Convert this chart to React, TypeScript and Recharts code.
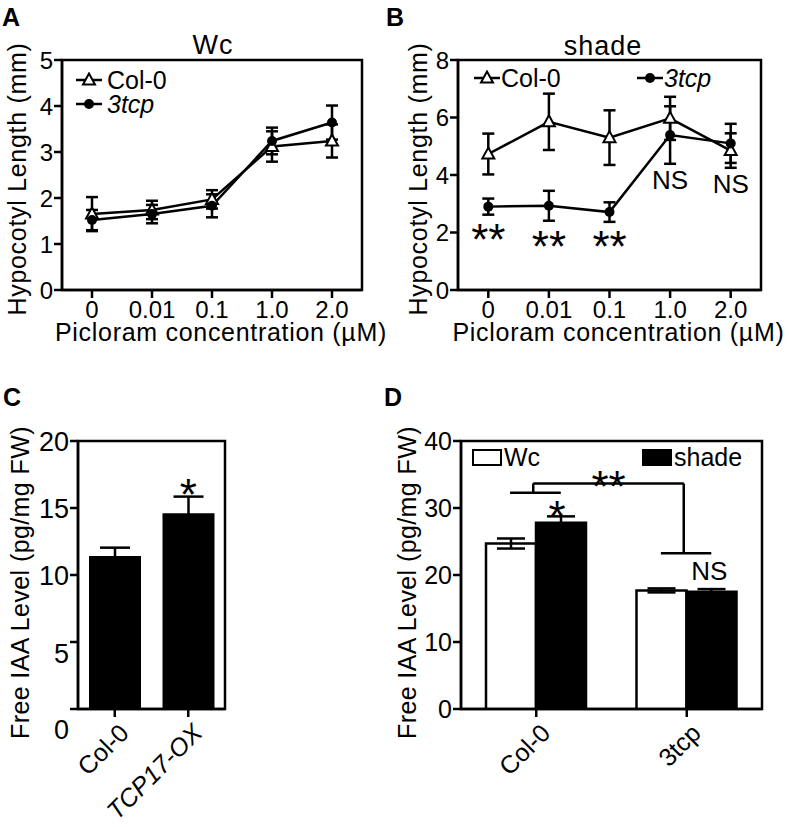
import React from "react";
import {
  Bar,
  BarChart,
  ErrorBar,
  Legend,
  Line,
  LineChart,
  ReferenceArea,
  ReferenceDot,
  ReferenceLine,
  XAxis,
  YAxis,
} from "recharts";

const FONT = '"Liberation Sans", Arial, Helvetica, sans-serif';
const INK = "#000";

// ---- panel A / B: hypocotyl length vs picloram ----
const concentrations = ["0", "0.01", "0.1", "1.0", "2.0"];

const wcCol0 = [1.65, 1.74, 1.97, 3.12, 3.24];
const wcCol0Err = [0.37, 0.2, 0.2, 0.33, 0.36];
const wcTcp = [1.52, 1.65, 1.83, 3.24, 3.64];
const wcTcpErr = [0.22, 0.2, 0.25, 0.29, 0.37];

const shadeCol0 = [4.73, 5.85, 5.3, 5.97, 4.85];
const shadeCol0Err = [0.71, 0.98, 0.95, 0.75, 0.6];
const shadeTcp = [2.9, 2.93, 2.71, 5.39, 5.1];
const shadeTcpErr = [0.28, 0.52, 0.34, 1.0, 0.68];
const shadeMarks = ["**", "**", "**", "NS", "NS"];
const shadeMarkY = [2.09, 1.85, 1.85, 3.83, 3.69];

const ticksA = [0, 1, 2, 3, 4, 5];
const ticksB = [0, 2, 4, 6, 8];

// ---- panel C: free IAA, Col-0 vs TCP17-OX ----
const linesC = ["Col-0", "TCP17-OX"];
const iaaC = [11.41, 14.6];
const iaaCErr = [0.63, 1.25];
const ticksC = [0, 5, 10, 15, 20];
const ticksCShift: Record<number, number> = { 0: 20, 5: 11 };
const markC = { x: 1.5, y: 16.75, text: "*" };

// ---- panel D: free IAA, Wc vs shade ----
const genotypes = ["Col-0", "3tcp"];
const iaaWc = [24.7, 17.7];
const iaaWcErr = [0.75, 0.3];
const iaaShade = [27.8, 17.5];
const iaaShadeErr = [0.95, 0.4];
const ticksD = [0, 10, 20, 30, 40];
// bracket segments in (group position, value) space; groups sit at 0.5 and 1.5
const bracketD = [
  [[0.48, 33.66], [1.48, 33.66]],
  [[0.48, 33.66], [0.48, 32.26]],
  [[0.326, 32.26], [0.663, 32.26]],
  [[1.48, 33.66], [1.48, 23.23]],
  [[1.328, 23.23], [1.663, 23.23]],
];
const marksD = [
  { x: 0.639, y: 30.28, text: "*" },
  { x: 0.981, y: 34.67, text: "**" },
  { x: 1.65, y: 20.6, text: "NS" },
];

// group i is centred at i (A, B) or i + 0.5 (C, D) on a numeric x axis
const rowsA = concentrations.map((c, i) => ({
  pos: i,
  col0: wcCol0[i],
  col0Err: wcCol0Err[i],
  tcp: wcTcp[i],
  tcpErr: wcTcpErr[i],
}));
const rowsB = concentrations.map((c, i) => ({
  pos: i,
  col0: shadeCol0[i],
  col0Err: shadeCol0Err[i],
  tcp: shadeTcp[i],
  tcpErr: shadeTcpErr[i],
}));
const rowsC = linesC.map((name, i) => ({ pos: i + 0.5, iaa: iaaC[i], err: iaaCErr[i] }));
const rowsD = genotypes.map((name, i) => ({
  pos: i + 0.5,
  wc: iaaWc[i],
  wcErr: iaaWcErr[i],
  shade: iaaShade[i],
  shadeErr: iaaShadeErr[i],
}));

const axisLine = { stroke: INK, strokeWidth: 2.5 };

function Triangle(p: any) {
  const { cx, cy, index } = p;
  if (cx == null || cy == null) return <g key={`t-${index}`} />;
  return (
    <polygon
      key={`t-${index}`}
      points={`${cx},${cy - 6.5} ${cx + 6},${cy + 4.5} ${cx - 6},${cy + 4.5}`}
      fill="#fff"
      stroke={INK}
      strokeWidth={2}
    />
  );
}

function Dot(p: any) {
  const { cx, cy, index } = p;
  if (cx == null || cy == null) return <g key={`c-${index}`} />;
  return <circle key={`c-${index}`} cx={cx} cy={cy} r={5} fill={INK} />;
}

function xTitle(text: string, dx: number, dy: number) {
  return ({ viewBox }: any) => (
    <text
      x={viewBox.x + viewBox.width / 2 + dx}
      y={viewBox.y + dy}
      textAnchor="middle"
      fontSize={25}
      letterSpacing={0.7}
      fontFamily={FONT}
      fill={INK}
    >
      {text}
    </text>
  );
}

// vertical axis title; with fromBottom set, the text starts that far below the plot bottom
function yTitle(text: string, fromAxis: number, dy: number, spacing = 0.7, fromBottom?: number) {
  return ({ viewBox }: any) => {
    const x = viewBox.x + viewBox.width - fromAxis;
    const y =
      fromBottom == null ? viewBox.y + viewBox.height / 2 + dy : viewBox.y + viewBox.height + fromBottom;
    return (
      <text
        x={x}
        y={y}
        transform={`rotate(-90 ${x} ${y})`}
        textAnchor={fromBottom == null ? "middle" : "start"}
        dominantBaseline="central"
        fontSize={25}
        letterSpacing={spacing}
        fontFamily={FONT}
        fill={INK}
      >
        {text}
      </text>
    );
  };
}

function markLabel(text: string) {
  const star = text.includes("*");
  return ({ viewBox }: any) => (
    <text
      x={viewBox.x + viewBox.width / 2}
      y={viewBox.y + viewBox.height / 2}
      dy={star ? "0.58em" : "0.36em"}
      textAnchor="middle"
      fontSize={star ? 44 : 26}
      fontFamily={FONT}
      fill={INK}
    >
      {text}
    </text>
  );
}

function catTick(labels: string[]) {
  return (props: any) => {
    const { x, y, payload } = props;
    return (
      <text x={x} y={y} dy="0.71em" textAnchor="middle" fontSize={24} fontFamily={FONT} fill={INK}>
        {labels[Math.round(payload.value)]}
      </text>
    );
  };
}

function slantTick(labels: string[], italic: string[]) {
  return (props: any) => {
    const { x, y, payload } = props;
    const text = labels[Math.floor(payload.value)];
    return (
      <g transform={`translate(${x + 3},${y + 5})`}>
        <text
          transform="rotate(-45)"
          textAnchor="end"
          dy="0.71em"
          fontSize={25}
          fontFamily={FONT}
          fill={INK}
          fontStyle={italic.includes(text) ? "italic" : "normal"}
        >
          {text}
        </text>
      </g>
    );
  };
}

function yTick(shift: Record<number, number>, size: number) {
  return (props: any) => {
    const { x, y, payload } = props;
    return (
      <text
        x={x}
        y={y + (shift[payload.value] ?? 0)}
        dy="0.355em"
        textAnchor="end"
        fontSize={size}
        fontFamily={FONT}
        fill={INK}
      >
        {payload.value}
      </text>
    );
  };
}

type LineSpot = { left: number; top: number; gap: number; marker: "triangle" | "circle"; italic?: boolean };

function lineLegend(spots: Record<string, LineSpot>) {
  return function LineLegend(props: any) {
    const payload = props.payload ?? [];
    return (
      <div style={{ position: "relative", width: 0, height: 0 }}>
        {payload.map((entry: any) => {
          const s = spots[entry.value];
          if (!s) return null;
          return (
            <div
              key={entry.value}
              style={{
                position: "absolute",
                left: s.left,
                top: s.top,
                display: "flex",
                alignItems: "center",
                whiteSpace: "nowrap",
                fontFamily: FONT,
                fontSize: 25,
                lineHeight: "28px",
                color: INK,
                fontStyle: s.italic ? "italic" : "normal",
              }}
            >
              <svg width={28} height={16} style={{ marginRight: s.gap }}>
                <line x1={1} y1={8} x2={27} y2={8} stroke={INK} strokeWidth={2.5} />
                {s.marker === "triangle" ? (
                  <polygon points="14,1.5 20,12.5 8,12.5" fill="#fff" stroke={INK} strokeWidth={2} />
                ) : (
                  <circle cx={14} cy={8} r={5} fill={INK} />
                )}
              </svg>
              <span>{entry.value}</span>
            </div>
          );
        })}
      </div>
    );
  };
}

type BoxSpot = { left: number; top: number; fill: string };

function boxLegend(spots: Record<string, BoxSpot>) {
  return function BoxLegend(props: any) {
    const payload = props.payload ?? [];
    return (
      <div style={{ position: "relative", width: 0, height: 0 }}>
        {payload.map((entry: any) => {
          const s = spots[entry.value];
          if (!s) return null;
          return (
            <div
              key={entry.value}
              style={{
                position: "absolute",
                left: s.left,
                top: s.top,
                display: "flex",
                alignItems: "center",
                whiteSpace: "nowrap",
                fontFamily: FONT,
                fontSize: 25,
                lineHeight: "28px",
                color: INK,
              }}
            >
              <div
                style={{
                  width: 26,
                  height: 13,
                  border: `2.5px solid ${INK}`,
                  background: s.fill,
                  marginRight: 2,
                }}
              />
              <span>{entry.value}</span>
            </div>
          );
        })}
      </div>
    );
  };
}

function PanelText({ text, left, top, size, bold, width, spacing }: { text: string; left: number; top: number; size: number; bold?: boolean; width?: number; spacing?: number }) {
  return (
    <div
      style={{
        position: "absolute",
        left,
        top,
        width: width ?? "auto",
        textAlign: width ? "center" : "left",
        fontFamily: FONT,
        fontSize: size,
        lineHeight: 1,
        letterSpacing: spacing ?? 0,
        fontWeight: bold ? 700 : 400,
        color: INK,
        whiteSpace: "nowrap",
      }}
    >
      {text}
    </div>
  );
}

function HypocotylChart({
  rows,
  ticks,
  width,
  marginLeft,
  legend,
  fromAxis,
  children,
}: {
  rows: any[];
  ticks: number[];
  width: number;
  marginLeft: number;
  legend: any;
  fromAxis: number;
  children?: React.ReactNode;
}) {
  const top = ticks[ticks.length - 1];
  const n = concentrations.length;
  return (
    <LineChart width={width} height={420} data={rows} margin={{ top: 60, right: 28, bottom: 90, left: marginLeft }}>
      <XAxis
        dataKey="pos"
        type="number"
        domain={[-0.5, n - 0.5]}
        allowDataOverflow
        ticks={concentrations.map((c, i) => i)}
        interval={0}
        tick={catTick(concentrations)}
        tickSize={8}
        tickMargin={3}
        tickLine={axisLine}
        axisLine={axisLine}
        height={40}
        label={xTitle("Picloram concentration (\u00b5M)", 9, 50.5)}
      />
      <YAxis
        domain={[0, top]}
        allowDataOverflow
        ticks={ticks}
        interval={0}
        tick={yTick({}, 24)}
        tickSize={8}
        tickMargin={1}
        tickLine={axisLine}
        axisLine={axisLine}
        width={40}
        label={yTitle("Hypocotyl Length (mm)", fromAxis, 4)}
      />
      <ReferenceArea
        x1={-0.5}
        x2={n - 0.5}
        y1={0}
        y2={top}
        fill="none"
        stroke={INK}
        strokeWidth={2.5}
        ifOverflow="visible"
      />
      <Legend layout="vertical" align="center" verticalAlign="middle" wrapperStyle={{ left: 0, top: 0, width: 0, height: 0 }} content={legend} />
      <Line
        dataKey="col0"
        name="Col-0"
        stroke={INK}
        strokeWidth={2.5}
        dot={Triangle}
        activeDot={false}
        isAnimationActive={false}
      >
        <ErrorBar dataKey="col0Err" width={6} strokeWidth={2.5} stroke={INK} isAnimationActive={false} />
      </Line>
      <Line
        dataKey="tcp"
        name="3tcp"
        stroke={INK}
        strokeWidth={2.5}
        dot={Dot}
        activeDot={false}
        isAnimationActive={false}
      >
        <ErrorBar dataKey="tcpErr" width={6} strokeWidth={2.5} stroke={INK} isAnimationActive={false} />
      </Line>
      {children}
    </LineChart>
  );
}

export default function App() {
  return (
    <div
      style={{
        position: "absolute",
        left: 0,
        top: 0,
        width: 789,
        height: 827,
        background: "#fff",
        overflow: "hidden",
      }}
    >
      <div style={{ position: "absolute", left: 0, top: 0 }}>
        <HypocotylChart
          rows={rowsA}
          ticks={ticksA}
          width={390}
          marginLeft={22}
          fromAxis={45}
          legend={lineLegend({
            "Col-0": { left: 75, top: 66, gap: 4, marker: "triangle" },
            "3tcp": { left: 75, top: 90, gap: 4, marker: "circle", italic: true },
          })}
        />
      </div>

      <div style={{ position: "absolute", left: 395, top: 0 }}>
        <HypocotylChart
          rows={rowsB}
          ticks={ticksB}
          width={394}
          marginLeft={23}
          fromAxis={40}
          legend={lineLegend({
            "Col-0": { left: 78, top: 64, gap: 0, marker: "triangle" },
            "3tcp": { left: 241, top: 64, gap: 0, marker: "circle", italic: true },
          })}
        >
          {concentrations.map((c, i) => (
            <ReferenceDot
              key={`m-${c}`}
              x={i}
              y={shadeMarkY[i]}
              r={0}
              fill="none"
              stroke="none"
              ifOverflow="visible"
              label={markLabel(shadeMarks[i])}
            />
          ))}
        </HypocotylChart>
      </div>

      <div style={{ position: "absolute", left: 0, top: 418, width: 395, height: 409 }}>
        <BarChart width={395} height={409} data={rowsC} margin={{ top: 23, right: 170, bottom: 58, left: 38 }}>
          <XAxis
            dataKey="pos"
            type="number"
            domain={[0, linesC.length]}
            allowDataOverflow
            ticks={linesC.map((l, i) => i + 0.5)}
            interval={0}
            tick={slantTick(linesC, ["TCP17-OX"])}
            tickSize={8}
            tickMargin={0}
            tickLine={axisLine}
            axisLine={axisLine}
            height={60}
          />
          <YAxis
            domain={[0, 20]}
            allowDataOverflow
            ticks={ticksC}
            interval={0}
            tick={yTick(ticksCShift, 27)}
            tickSize={8}
            tickMargin={1}
            tickLine={axisLine}
            axisLine={axisLine}
            width={40}
            label={yTitle("Free IAA Level (pg/mg FW)", 58, 0, 0.4, 30)}
          />
          <ReferenceArea
            x1={0}
            x2={linesC.length}
            y1={0}
            y2={20}
            fill="none"
            stroke={INK}
            strokeWidth={2.5}
            ifOverflow="visible"
          />
          <Bar dataKey="iaa" fill={INK} barSize={52} isAnimationActive={false}>
            <ErrorBar dataKey="err" width={15} strokeWidth={2.5} stroke={INK} isAnimationActive={false} />
          </Bar>
          <ReferenceDot
            x={markC.x}
            y={markC.y}
            r={0}
            fill="none"
            stroke="none"
            ifOverflow="visible"
            label={markLabel(markC.text)}
          />
        </BarChart>
      </div>

      <div style={{ position: "absolute", left: 385, top: 418, width: 404, height: 409 }}>
        <BarChart
          width={404}
          height={409}
          data={rowsD}
          margin={{ top: 23, right: 27, bottom: 58, left: 36 }}
          barGap={0}
        >
          <XAxis
            dataKey="pos"
            type="number"
            domain={[0, genotypes.length]}
            allowDataOverflow
            ticks={genotypes.map((g, i) => i + 0.5)}
            interval={0}
            tick={slantTick(genotypes, [])}
            tickSize={8}
            tickMargin={0}
            tickLine={axisLine}
            axisLine={axisLine}
            height={60}
          />
          <YAxis
            domain={[0, 40]}
            allowDataOverflow
            ticks={ticksD}
            interval={0}
            tick={yTick({}, 25)}
            tickSize={8}
            tickMargin={1}
            tickLine={axisLine}
            axisLine={axisLine}
            width={40}
            label={yTitle("Free IAA Level (pg/mg FW)", 54, 0, 0.4, 30)}
          />
          <ReferenceArea
            x1={0}
            x2={genotypes.length}
            y1={0}
            y2={40}
            fill="none"
            stroke={INK}
            strokeWidth={2.5}
            ifOverflow="visible"
          />
          <Legend
            layout="vertical"
            align="center"
            verticalAlign="middle"
            wrapperStyle={{ left: 0, top: 0, width: 0, height: 0 }}
            content={boxLegend({
              Wc: { left: 87, top: 25, fill: "#fff" },
              shade: { left: 257, top: 25, fill: INK },
            })}
          />
          <Bar dataKey="wc" name="Wc" fill="#fff" stroke={INK} strokeWidth={2.5} barSize={50} isAnimationActive={false}>
            <ErrorBar dataKey="wcErr" width={14} strokeWidth={2.5} stroke={INK} isAnimationActive={false} />
          </Bar>
          <Bar dataKey="shade" name="shade" fill={INK} stroke={INK} strokeWidth={2.5} barSize={50} isAnimationActive={false}>
            <ErrorBar dataKey="shadeErr" width={14} strokeWidth={2.5} stroke={INK} isAnimationActive={false} />
          </Bar>
          {bracketD.map((seg, i) => (
            <ReferenceLine
              key={`br-${i}`}
              segment={[
                { x: seg[0][0], y: seg[0][1] },
                { x: seg[1][0], y: seg[1][1] },
              ]}
              stroke={INK}
              strokeWidth={2.5}
              ifOverflow="visible"
            />
          ))}
          {marksD.map((m) => (
            <ReferenceDot
              key={`md-${m.text}`}
              x={m.x}
              y={m.y}
              r={0}
              fill="none"
              stroke="none"
              ifOverflow="visible"
              label={markLabel(m.text)}
            />
          ))}
        </BarChart>
      </div>

      <PanelText text="A" left={2} top={5} size={25} bold />
      <PanelText text="B" left={386} top={5} size={25} bold />
      <PanelText text="C" left={3} top={385} size={25} bold />
      <PanelText text="D" left={384} top={385} size={25} bold />
      <PanelText text="Wc" left={113} top={32} size={27} spacing={1} width={200} />
      <PanelText text="shade" left={503} top={33} size={27} spacing={1} width={200} />
    </div>
  );
}
